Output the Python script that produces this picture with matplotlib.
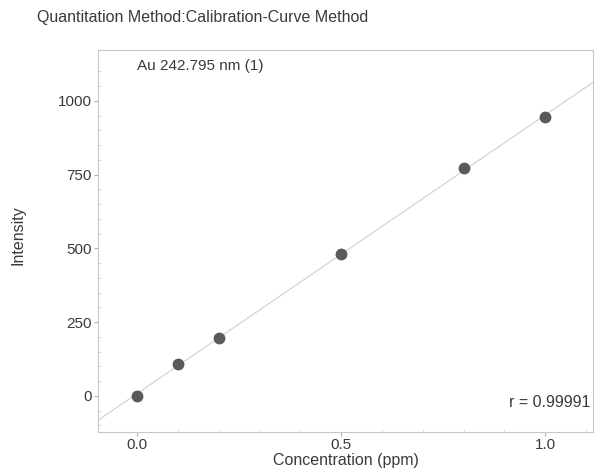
import numpy as np
import matplotlib
matplotlib.use('Agg')
import matplotlib.pyplot as plt

plt.rcParams['font.family'] = ['Liberation Sans', 'DejaVu Sans']

# calibration standards
conc = [0.0, 0.1, 0.2, 0.5, 0.8, 1.0]
intensity = [0, 109, 197, 482, 771, 944]
xticks = [0.0, 0.5, 1.0]
yticks = [0, 250, 500, 750, 1000]

fig = plt.figure(figsize=(5.98, 4.70), dpi=100)
ax = fig.add_axes([0.164, 0.081, 0.828, 0.813])

xlim = (-0.096, 1.118)
slope, icpt = np.polyfit(conc, intensity, 1)
xs = np.array(xlim)
ax.plot(xs, slope * xs + icpt, color='#d4d4d4', lw=0.9, zorder=1)
ax.plot(conc, intensity, 'o', color='#5a5a5a', ms=7.5, zorder=2)

ax.set_xlim(*xlim)
ax.set_ylim(-122, 1173)
ax.set_xticks(xticks)
ax.set_xticklabels([f"{t:.1f}" for t in xticks])
ax.set_yticks(yticks)
ax.set_xticks(np.arange(0.0, 1.11, 0.1), minor=True)
ax.set_yticks(np.arange(-100, 1101, 50), minor=True)

for s in ax.spines.values():
    s.set_color('#c8c8c8')
    s.set_linewidth(0.8)
ax.tick_params(which='major', length=3, color='#b0b0b0', labelsize=11,
               labelcolor='#3a3a3a', pad=1.5)
ax.tick_params(which='minor', length=2, direction='in', color='#d8d8d8')

ax.set_xlabel("Concentration (ppm)", fontsize=11.5, color='#3a3a3a')
ax.xaxis.set_label_coords(0.5, -0.054)
ax.set_ylabel("Intensity", fontsize=11.5, color='#3a3a3a')
ax.yaxis.set_label_coords(-0.147, 0.516)

ax.text(0.079, 0.975, "Au 242.795 nm (1)", transform=ax.transAxes,
        fontsize=11, color='#3a3a3a', va='top')
ax.text(0.995, 0.058, "r = 0.99991", transform=ax.transAxes,
        fontsize=11.5, color='#3a3a3a', ha='right', va='bottom')

fig.text(0.062, 0.962, "Quantitation Method:Calibration-Curve Method",
         fontsize=11.5, color='#3a3a3a', va='center')

fig.savefig('out.png', dpi=100)
